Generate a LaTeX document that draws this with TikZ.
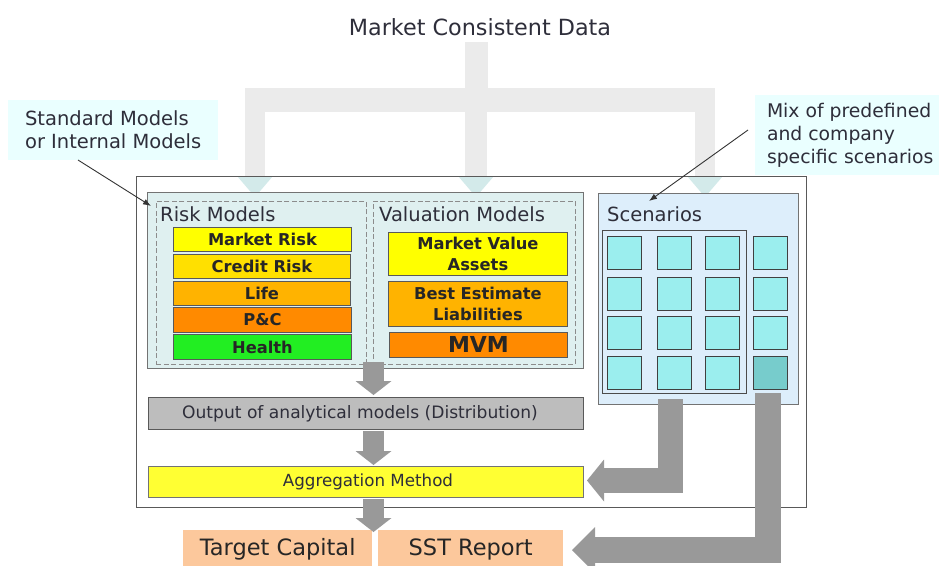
\documentclass[tikz,border=0pt]{standalone}
\usepackage{fontspec}
\setmainfont{DejaVu Sans}
\usetikzlibrary{arrows.meta,calc}
\definecolor{txt}{HTML}{2E2E3A}
\definecolor{treebar}{HTML}{EBEBEB}
\definecolor{treehead}{HTML}{D3EAEA}
\definecolor{contfill}{HTML}{DFF0F0}
\definecolor{scenfill}{HTML}{DDEEFB}
\definecolor{sqfill}{HTML}{9BEEEE}
\definecolor{sqdark}{HTML}{77CCCC}
\definecolor{arrowgray}{HTML}{999999}
\definecolor{outfill}{HTML}{BDBDBD}
\definecolor{aggfill}{HTML}{FFFF33}
\definecolor{cyellow}{HTML}{FFFF00}
\definecolor{cgold}{HTML}{FFE000}
\definecolor{clife}{HTML}{FFB300}
\definecolor{cpc}{HTML}{FF8A00}
\definecolor{chealth}{HTML}{22EE22}
\definecolor{peach}{HTML}{FCC89C}
\definecolor{callfill}{HTML}{EAFFFF}
\begin{document}
\begin{tikzpicture}[x=1pt,y=-1pt,
  lbl/.style={font=\fontsize{19.5}{23}\selectfont, text=txt, inner sep=0},
  bx/.style={anchor=north west, inner sep=0},
  item/.style={bx, draw=black!65, line width=0.9pt, font=\bfseries\fontsize{16.3}{20.5}\selectfont, text=black!85, align=center},
  dashbox/.style={bx, draw=black!45, line width=0.9pt, dash pattern=on 5pt off 2.5pt, fill=contfill},
  sq/.style={bx, draw=black!75, line width=1pt, fill=sqfill, minimum width=34pt, minimum height=33pt},
  gar/.style={draw=arrowgray, line cap=butt, line join=miter},
  callout/.style={bx, fill=callfill, align=left, text=txt},
  pointer/.style={draw=black!80, line width=0.9pt, -{Latex[length=8pt,width=6pt]}},
  treeline/.style={draw=treebar, line cap=butt}
]
\useasboundingbox (0,0) rectangle (939,565);

% title and tree of connectors
\node[font=\fontsize{22.3}{26}\selectfont, text=txt, inner sep=0] (title) at (480,27) {Market Consistent Data};
\coordinate (stemtop) at (476.5,42);
\coordinate (barmid) at (476.5,100);
\coordinate (barL) at (245,100);
\coordinate (barR) at (715,100);
\coordinate (dropL) at (255,100);
\coordinate (dropM) at (476,100);
\coordinate (dropR) at (705,100);
\coordinate (endL) at (255,176);
\coordinate (endM) at (476,176);
\coordinate (endR) at (705,176);
\draw[treeline, line width=23pt] (stemtop) -- (barmid);
\draw[treeline, line width=24pt] (barL) -- (barR);
\draw[treeline, line width=20pt] (dropL) -- (endL);
\draw[treeline, line width=22pt] (dropM) -- (endM);
\draw[treeline, line width=20pt] (dropR) -- (endR);
\fill[treehead] ($(endL)+(-18,0)$) -- ($(endL)+(18,0)$) -- ($(endL)+(0,21)$) -- cycle;
\fill[treehead] ($(endM)+(-18,0)$) -- ($(endM)+(18,0)$) -- ($(endM)+(0,21)$) -- cycle;
\fill[treehead] ($(endR)+(-18,0)$) -- ($(endR)+(18,0)$) -- ($(endR)+(0,21)$) -- cycle;

% outer box
\node[bx, draw=black!65, line width=1.1pt, minimum width=670pt, minimum height=331pt] (outer) at (136,176) {};

% model container
\node[bx, draw=black!55, line width=1pt, fill=contfill, minimum width=436pt, minimum height=176pt] (cont) at (147,192) {};
\node[dashbox, minimum width=210pt, minimum height=163pt] (riskm) at (156,201) {};
\node[dashbox, minimum width=202pt, minimum height=163pt] (valm) at (373,201) {};
\node[lbl, anchor=base west] (risklbl) at (160,221) {Risk Models};
\node[lbl, anchor=base west] (vallbl) at (379,221) {Valuation Models};

\node[item, fill=cyellow, minimum width=178pt, minimum height=24pt] (mr) at (173,227) {Market Risk};
\node[item, fill=cgold, minimum width=177pt, minimum height=24pt] (cr) at (173,254) {Credit Risk};
\node[item, fill=clife, minimum width=177pt, minimum height=24pt] (life) at (173,281) {Life};
\node[item, fill=cpc, minimum width=178pt, minimum height=25pt] (pc) at (173,307) {P\&C};
\node[item, fill=chealth, minimum width=178pt, minimum height=25pt] (health) at (173,334) {Health};

\node[item, fill=cyellow, minimum width=179pt, minimum height=43pt] (mva) at (388,232) {Market Value\\Assets};
\node[item, fill=clife, minimum width=179pt, minimum height=45pt] (bel) at (388,281) {Best Estimate\\Liabilities};
\node[item, fill=cpc, minimum width=178pt, minimum height=25pt, font=\bfseries\fontsize{22}{24}\selectfont] (mvm) at (389,332) {MVM};

% scenarios
\node[bx, draw=black!55, line width=1pt, fill=scenfill, minimum width=200pt, minimum height=211pt] (scen) at (598,193) {};
\node[lbl, anchor=base west] (scenlbl) at (607,221) {Scenarios};
\node[bx, draw=black!70, line width=1pt, minimum width=144pt, minimum height=163pt] (grid) at (602,230) {};
\foreach \r/\y in {1/236,2/277,3/316,4/356}{
  \foreach \c/\x in {1/607,2/657,3/705}{
    \node[sq] (s\r\c) at (\x,\y) {};
  }
}
\node[sq] (s14) at (753,236) {};
\node[sq] (s24) at (753,277) {};
\node[sq] (s34) at (753,316) {};
\node[sq, fill=sqdark] (s44) at (753,356) {};

% output and aggregation
\node[bx, draw=black!65, line width=1pt, fill=outfill, minimum width=435pt, minimum height=32pt] (output) at (148,397) {};
\node[font=\fontsize{17.1}{20}\selectfont, text=txt, inner sep=0] at ($(output.center)+(-6,0)$) {Output of analytical models (Distribution)};
\node[bx, draw=black!55, line width=1pt, fill=aggfill, minimum width=435pt, minimum height=31pt] (agg) at (148,466) {};
\node[font=\fontsize{16.7}{20}\selectfont, text=txt, inner sep=0] at ($(agg.center)+(2,0)$) {Aggregation Method};

% results
\node[bx, fill=peach, minimum width=189pt, minimum height=40pt] (tc) at (183,530) {};
\node[font=\fontsize{22.5}{26}\selectfont, text=black!85, inner sep=0] at ($(tc.north)+(0,19)$) {Target Capital};
\node[bx, fill=peach, minimum width=185pt, minimum height=40pt] (sst) at (378,530) {};
\node[font=\fontsize{22.5}{26}\selectfont, text=black!85, inner sep=0] at ($(sst.north)+(0,19)$) {SST Report};

% gray block arrows
\coordinate (a1s) at (373.5,362);
\coordinate (a1e) at (373.5,395);
\coordinate (a2s) at (373.5,431);
\coordinate (a2e) at (373.5,465);
\coordinate (a3s) at (373.5,499);
\coordinate (a3e) at (373.5,532);
\draw[gar, line width=21pt, -{Triangle[width=36pt,length=14pt,line width=0pt]}] (a1s) -- (a1e);
\draw[gar, line width=21pt, -{Triangle[width=36pt,length=14pt,line width=0pt]}] (a2s) -- (a2e);
\draw[gar, line width=21pt, -{Triangle[width=36pt,length=14pt,line width=0pt]}] (a3s) -- (a3e);

\coordinate (l1s) at (670.5,399);
\coordinate (l1e) at (587,480.5);
\draw[gar, line width=25pt, -{Triangle[width=42pt,length=17pt,line width=0pt]}] (l1s) |- (l1e);
\coordinate (l2s) at (768,393);
\coordinate (l2e) at (572,550);
\draw[gar, line width=26pt, -{Triangle[width=46pt,length=23pt,line width=0pt]}] (l2s) |- (l2e);

% callouts
\node[callout, minimum width=210pt, minimum height=60pt, inner xsep=11pt, font=\fontsize{19.5}{23}\selectfont] (stdcall) at (8,100) {Standard Models\\or Internal Models};
\node[callout, minimum width=190pt, minimum height=80pt, inner xsep=6pt, font=\fontsize{18.8}{23}\selectfont] (mixcall) at (755,95) {Mix of predefined\\and company\\specific scenarios};
\coordinate (p1s) at (78,160);
\coordinate (p1e) at (151,206);
\draw[pointer] (p1s) -- (p1e);
\coordinate (p2s) at (748,130);
\coordinate (p2e) at (649,201);
\draw[pointer] (p2s) -- (p2e);
\end{tikzpicture}
\end{document}
